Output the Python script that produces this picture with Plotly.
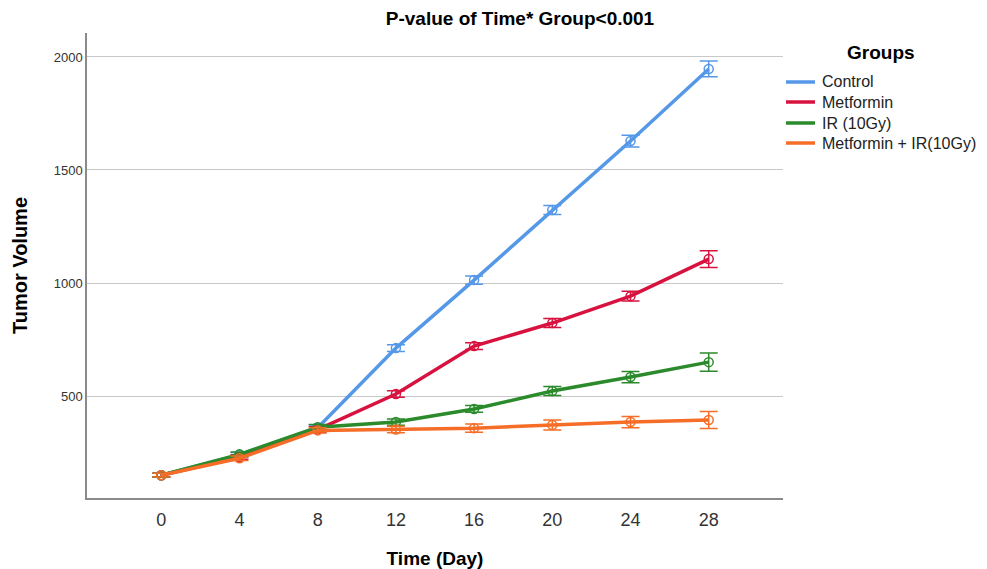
import plotly.graph_objects as go

days = [0, 4, 8, 12, 16, 20, 24, 28]
groups = ["Control", "Metformin", "IR (10Gy)", "Metformin + IR(10Gy)"]
control = [150, 240, 360, 712, 1013, 1323, 1628, 1947]
metformin = [150, 230, 352, 509, 721, 823, 942, 1106]
ir = [150, 242, 362, 385, 443, 522, 584, 650]
met_ir = [150, 225, 348, 352, 358, 372, 385, 394]
control_err = [8, 10, 12, 15, 18, 20, 26, 35]
metformin_err = [8, 10, 12, 14, 15, 20, 22, 37]
ir_err = [8, 10, 12, 14, 15, 20, 25, 40]
met_ir_err = [8, 10, 12, 14, 18, 22, 25, 38]

series = [control, metformin, ir, met_ir]
errors = [control_err, metformin_err, ir_err, met_ir_err]
colors = ["#5598E8", "#D8123F", "#2B8A2B", "#F56D27"]

FONT = "Arial, Liberation Sans, sans-serif"
W, H = 979, 561
OFF = 8  # page body margin
L, R, T, B = 79, 204, 25, 71
PW, PH = W - L - R, H - T - B


def px_x(sx):  # screenshot x -> paper x
    return (sx - OFF - L) / PW


def px_y(sy):  # screenshot y -> paper y
    return (H - B - (sy - OFF)) / PH


fig = go.Figure()

for name, vals, err, col in zip(groups, series, errors, colors):
    fig.add_trace(go.Scatter(
        x=days, y=vals, mode="lines+markers", name=name, showlegend=False,
        line=dict(color=col, width=3.5),
        marker=dict(symbol="circle-open", size=9, color=col, line=dict(width=1.5, color=col)),
        error_y=dict(type="data", array=err, visible=True, color=col, thickness=1.5, width=9),
    ))

shapes = []
annotations = [dict(text="<b>Groups</b>", xref="paper", yref="paper",
                    x=px_x(881), y=px_y(52), xanchor="center", yanchor="middle",
                    showarrow=False, font=dict(size=19))]
legend_y = [82, 102, 123, 143]
for name, col, ly in zip(groups, colors, legend_y):
    shapes.append(dict(type="line", xref="paper", yref="paper",
                       x0=px_x(786), x1=px_x(815), y0=px_y(ly), y1=px_y(ly),
                       line=dict(color=col, width=3.5)))
    annotations.append(dict(text=name, xref="paper", yref="paper",
                            x=px_x(820), y=px_y(ly), xanchor="left", yanchor="middle",
                            showarrow=False, font=dict(size=16, color="#222")))

fig.update_layout(
    width=W, height=H, showlegend=False,
    paper_bgcolor="white", plot_bgcolor="white",
    margin=dict(l=L, r=R, t=T, b=B, autoexpand=False),
    font=dict(family=FONT, color="#000"),
    title=dict(text="<b>P-value of Time* Group<0.001</b>", x=512 / W, xanchor="center",
               y=1 - 10 / H, yanchor="middle", font=dict(size=19)),
    shapes=shapes, annotations=annotations,
)
fig.update_xaxes(
    range=[-3.8, 31.8], tickvals=days, ticktext=[str(d) for d in days],
    showgrid=False, zeroline=False, showline=True, linecolor="#8a8a8a", linewidth=1.5,
    ticks="", tickfont=dict(size=18, color="#333"), ticklabelstandoff=5,
    title=dict(text="<b>Time (Day)</b>", font=dict(size=19), standoff=22),
)
fig.update_yaxes(
    range=[49, 2106], tickvals=[500, 1000, 1500, 2000],
    showgrid=True, gridcolor="#c8c8c8", gridwidth=1.2, zeroline=False,
    showline=True, linecolor="#8a8a8a", linewidth=1.5,
    ticks="", tickfont=dict(size=13, color="#333"),
    title=dict(text="<b>Tumor Volume</b>", font=dict(size=20), standoff=21),
)

fig.write_html("out.html")
